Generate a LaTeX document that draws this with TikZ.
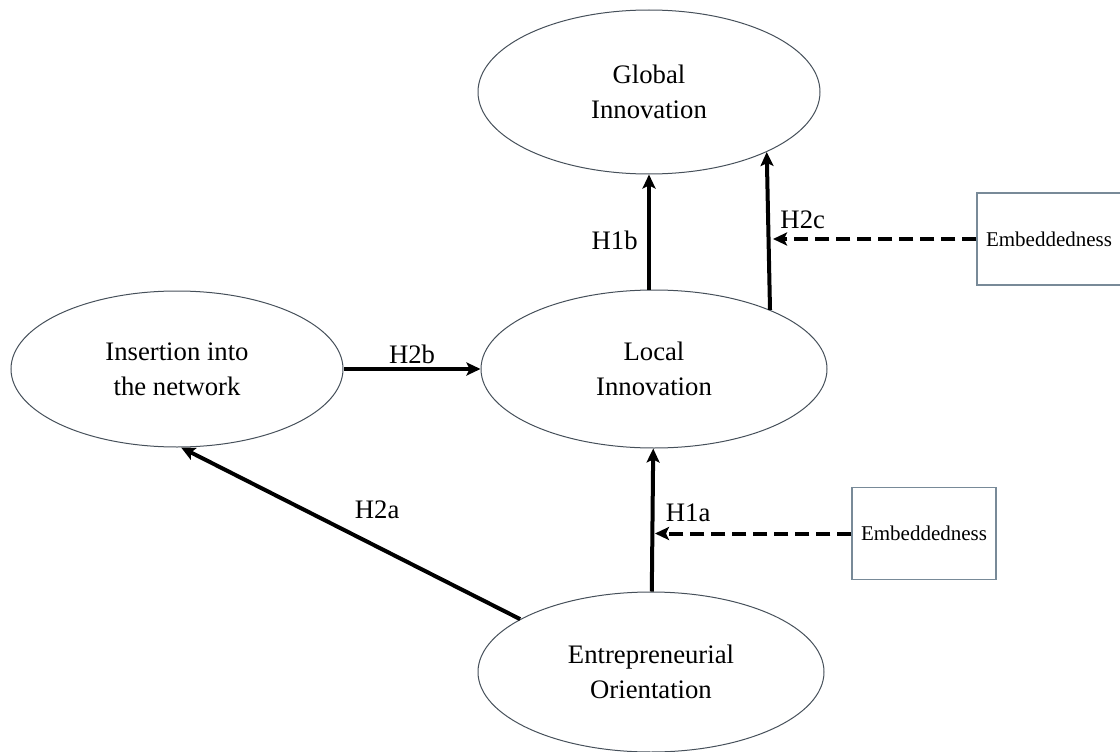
\documentclass[tikz,border=0pt]{standalone}
\usepackage{fontspec}
\setmainfont{Liberation Serif}
\usetikzlibrary{calc, arrows.meta, shapes.geometric}

\definecolor{outline}{RGB}{70,80,90}
\definecolor{boxline}{RGB}{120,138,152}

\begin{document}
\begin{tikzpicture}[x=1pt, y=-1pt,
		construct/.style = {draw=outline, line width=1pt, ellipse, inner sep=0pt, align=center, font=\fontsize{26.7}{35}\selectfont},
		moderator/.style = {draw=boxline, line width=1.2pt, minimum width=144pt, minimum height=92pt, inner sep=0pt, font=\fontsize{21}{25}\selectfont},
		hyp/.style = {font=\fontsize{26.7}{32}\selectfont},
		effect/.style = {line width=4pt, -{Stealth[length=14pt, width=13pt, inset=3pt]}},
		moderation/.style = {effect, dash pattern=on 14pt off 7pt}]
		\useasboundingbox (0,0) rectangle (1120,752);
		
		\node [construct, minimum width=342pt, minimum height=164pt] (global innovation) at (649,92) {Global\\Innovation};
		\node [construct, minimum width=346pt, minimum height=158pt] (local innovation) at (654,369) {Local\\Innovation};
		\node [construct, minimum width=332pt, minimum height=156pt] (insertion) at (177,369) {Insertion into\\the network};
		\node [construct, minimum width=346pt, minimum height=160pt] (orientation) at (651,672) {Entrepreneurial\\Orientation};
		
		\node [moderator] (embeddedness top) at (1049,239) {Embeddedness};
		\node [moderator] (embeddedness bottom) at (924,533.5) {Embeddedness};
		
		%hypotheses
		\draw [effect] (local innovation.north -| global innovation.south) -- (global innovation.south) node [pos=0.43, left=6pt, hyp] {H1b};
		\draw [effect] (local innovation.27) -- (global innovation.-27) node [pos=0.57, right=7pt, hyp] {H2c};
		\draw [effect] (insertion.east) -- (local innovation.west) node [midway, above, hyp] {H2b};
		\draw [effect] (orientation) -- (local innovation) node [pos=0.55, right=8pt, hyp] {H1a};
		\draw [effect] (orientation.158) -- (insertion.-87) node [midway, above right, hyp, xshift=-1pt, yshift=9pt] {H2a};
		
		%moderators
		\draw [moderation] (embeddedness top.west) -- ($ (embeddedness top.west -| local innovation.27) + (3,0) $);
		\draw [moderation] (embeddedness bottom.west) -- ($ (embeddedness bottom.west -| local innovation.south) + (1,0) $);
	\end{tikzpicture}
\end{document}
